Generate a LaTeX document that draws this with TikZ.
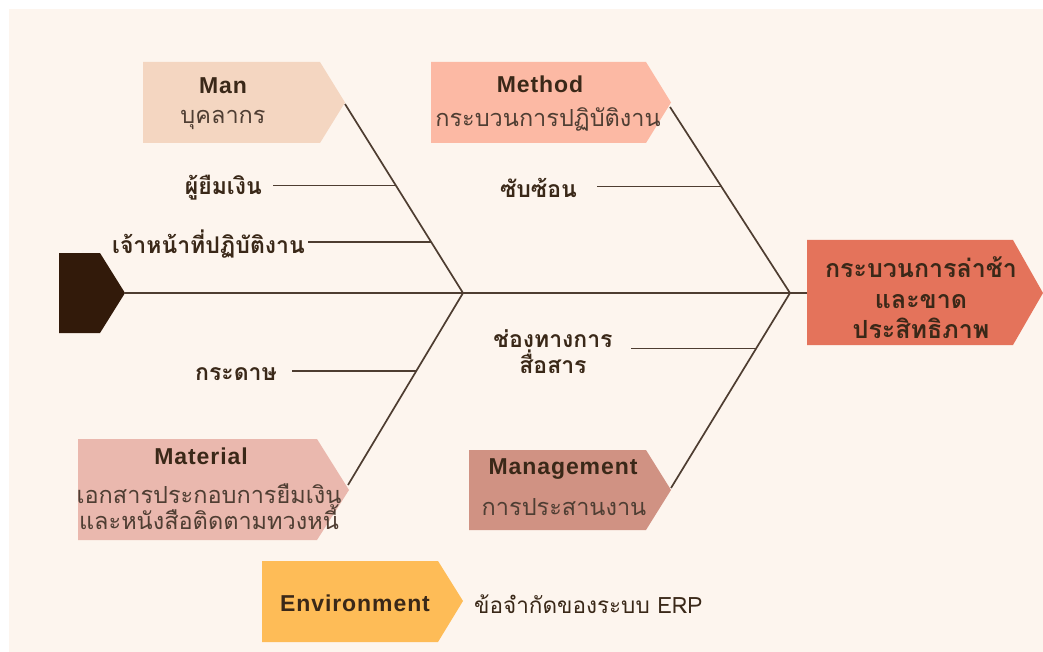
\documentclass[tikz,border=0pt]{standalone}
\usepackage{fontspec}
\setmainfont{Liberation Sans}
\newfontfamily\thai[Script=Thai]{Loma}
\newfontfamily\lat[LetterSpace=4]{Liberation Sans}
\definecolor{bgc}{HTML}{FDF5EE}
\definecolor{manc}{HTML}{F4D6C1}
\definecolor{methc}{HTML}{FCB9A4}
\definecolor{matc}{HTML}{EAB8AE}
\definecolor{mgc}{HTML}{D09283}
\definecolor{envc}{HTML}{FEBC57}
\definecolor{headc}{HTML}{E4735B}
\definecolor{tailc}{HTML}{321A0A}
\definecolor{linec}{HTML}{4E3D31}
\definecolor{txtc}{HTML}{3A2818}
\definecolor{subc}{HTML}{4F3E33}
\begin{document}
\begin{tikzpicture}[x=1pt,y=-1pt,
  bone/.style={draw=linec,line width=1.7pt},
  title/.style={font=\lat\bfseries\fontsize{23}{26}\selectfont,text=txtc,inner sep=0pt},
  sub/.style={font=\thai\fontsize{23.5}{26}\selectfont,text=subc,inner sep=0pt,align=center},
  lbl/.style={font=\thai\bfseries\fontsize{23}{26}\selectfont,text=txtc,inner sep=0pt,align=center}]
\useasboundingbox (0,0) rectangle (1043,652);
\fill[white] (0,0) rectangle (1043,652);
\fill[bgc] (9,9) rectangle (1043,652);
% boxes
\fill[manc] (143,62) -- (320,62) -- (345,102.5) -- (320,143) -- (143,143) -- cycle;
\fill[methc] (431,62) -- (646,62) -- (671,102.5) -- (646,143) -- (431,143) -- cycle;
\fill[matc] (78,439) -- (317,439) -- (349,490) -- (317,540) -- (78,540) -- cycle;
\fill[mgc] (469,450) -- (646,450) -- (671,490) -- (646,530) -- (469,530) -- cycle;
\fill[envc] (262,561) -- (438,561) -- (463,601) -- (438,642) -- (262,642) -- cycle;
\fill[headc] (807,240) -- (1013,240) -- (1043,293) -- (1013,345) -- (807,345) -- cycle;
\fill[tailc] (59,253) -- (100,253) -- (125,293) -- (100,333) -- (59,333) -- cycle;
% key points
\coordinate (tail) at (125,293);
\coordinate (head) at (807,293);
\coordinate (j1) at (463,293);
\coordinate (j2) at (790,293);
\coordinate (mantip) at (345,104);
\coordinate (methtip) at (670,107);
\coordinate (mattip) at (348,485);
\coordinate (mgtip) at (671,488);
% spine and bones
\draw[bone] (tail) -- (head);
\draw[bone] (mantip) -- (j1) (methtip) -- (j2) (j1) -- (mattip) (j2) -- (mgtip);
\path (mantip) -- (j1) coordinate[pos=0.432] (m1) coordinate[pos=0.732] (m2);
\path (methtip) -- (j2) coordinate[pos=0.428] (me1);
\path (j1) -- (mattip) coordinate[pos=0.408] (ma1);
\path (j2) -- (mgtip) coordinate[pos=0.284] (mg1);
% box texts
\node[title] (mant) at (223,86) {Man};
\node[sub] (mans) at (223,120) {บุคลากร};
\node[title] (metht) at (540,84) {Method};
\node[sub] (meths) at (548,119) {กระบวนการปฏิบัติงาน};
\node[title] (matt) at (201,456) {Material};
\node[sub] (mats) at (209,507) {เอกสารประกอบการยืมเงิน\\และหนังสือติดตามทวงหนี้};
\node[title] (mgt) at (563,469) {Management};
\node[sub] (mgs) at (564,507) {การประสานงาน};
\node[title] (envt) at (355,603) {Environment};
\node[lbl,font=\thai\fontsize{22.5}{26}\selectfont,anchor=west] (envs) at (474,604) {ข้อจำกัดของระบบ ERP};
\node[lbl,font=\thai\bfseries\fontsize{25}{30.5}\selectfont] (headt) at (921,298) {กระบวนการล่าช้า\\และขาด\\ประสิทธิภาพ};
% cause labels
\node[lbl,anchor=east] (c1) at (262,188) {ผู้ยืมเงิน};
\node[lbl,anchor=east] (c2) at (305,244) {เจ้าหน้าที่ปฏิบัติงาน};
\node[lbl,anchor=east] (c3) at (577,188) {ซับซ้อน};
\node[lbl,anchor=east] (c4) at (277,374) {กระดาษ};
\node[lbl] (c5) at (553,352) {ช่องทางการ\\สื่อสาร};
\draw[bone] ([xshift=11pt]c1.east |- m1) -- (m1);
\draw[bone] ([xshift=3pt]c2.east |- m2) -- (m2);
\draw[bone] ([xshift=20pt]c3.east |- me1) -- (me1);
\draw[bone] ([xshift=15pt]c4.east |- ma1) -- (ma1);
\draw[bone] (631,0 |- mg1) -- (mg1);
\end{tikzpicture}
\end{document}
